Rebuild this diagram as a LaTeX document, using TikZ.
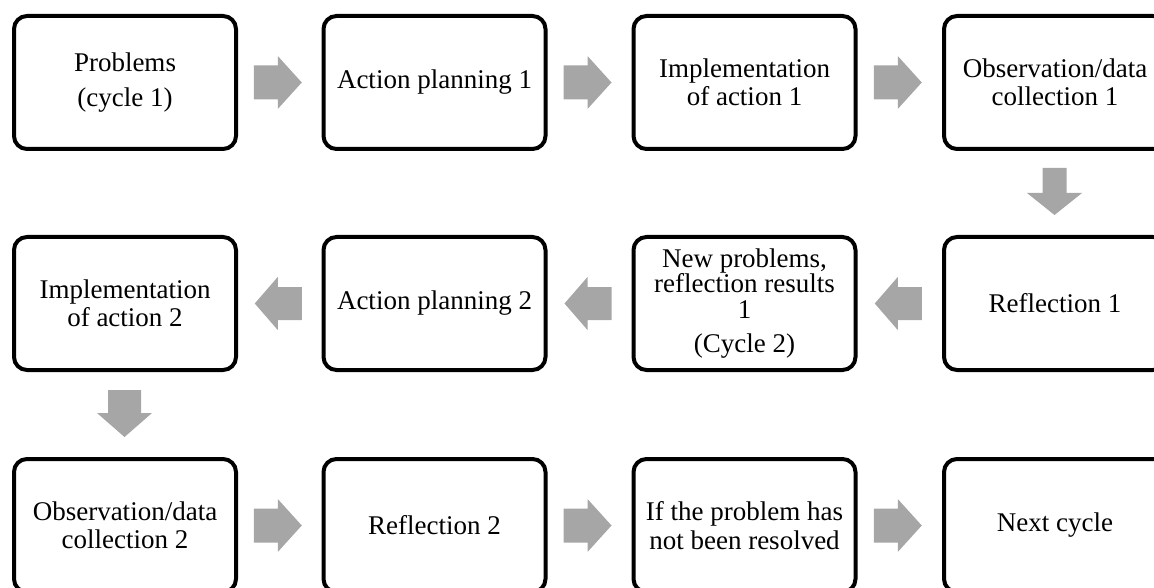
\documentclass[tikz,border=0pt]{standalone}
\usepackage{fontspec}
\setmainfont{Liberation Serif}
\usetikzlibrary{calc}
\definecolor{arrowgray}{RGB}{166,166,166}
\tikzset{
  stepbox/.style={draw=black, line width=4pt, rounded corners=13pt,
    minimum width=222pt, minimum height=133pt, inner sep=0pt,
    align=center, font=\fontsize{27}{28.5}\selectfont},
  rarrow/.pic={\fill[arrowgray] (-24,-17) -- (0,-17) -- (0,-26.5) -- (24,0)
      -- (0,26.5) -- (0,17) -- (-24,17) -- cycle;},
  larrow/.pic={\fill[arrowgray] (24,-16.5) -- (0,-16.5) -- (0,-26.5) -- (-23,0)
      -- (0,26.5) -- (0,16.5) -- (24,16.5) -- cycle;},
  darrowA/.pic={\fill[arrowgray] (-12,-25) -- (12,-25) -- (12,0) -- (27.5,0)
      -- (0,22) -- (-27.5,0) -- (-12,0) -- cycle;},
  darrowB/.pic={\fill[arrowgray] (-16.5,-23) -- (16.5,-23) -- (16.5,0) -- (27.5,0)
      -- (0,24) -- (-27.5,0) -- (-16.5,0) -- cycle;},
}
\begin{document}
\begin{tikzpicture}[x=1pt,y=-1pt]
\useasboundingbox (0,0) rectangle (1154,588);
\clip (0,0) rectangle (1154,588);
% row 1
\node[stepbox] (a1) at (125,82.5) {Problems\\[6pt](cycle 1)};
\node[stepbox] (a2) at (434.5,82.5) {Action planning 1};
\node[stepbox] (a3) at (744.5,82.5) {Implementation\\of action 1};
\node[stepbox] (a4) at (1055,82.5) {Observation/data\\collection 1};
% row 2
\node[stepbox] (b1) at (125,303.5) {Implementation\\of action 2};
\node[stepbox] (b2) at (434.5,303.5) {Action planning 2};
\node[stepbox, font=\fontsize{27}{25.5}\selectfont] (b3) at (744.5,303.5) {New problems,\\reflection results\\1\\[9pt](Cycle 2)};
\node[stepbox] (b4) at (1055,303.5) {Reflection 1};
% row 3
\node[stepbox] (c1) at (125,525.5) {Observation/data\\collection 2};
\node[stepbox] (c2) at (434.5,525.5) {Reflection 2};
\node[stepbox] (c3) at (744.5,525.5) {If the problem has\\not been resolved};
\node[stepbox] (c4) at (1055,525.5) {Next cycle};
% arrows
\pic at ($($(a1.east)!0.5!(a2.west)$)+(-2,0)$) {rarrow};
\pic at ($($(a2.east)!0.5!(a3.west)$)+(-2,0)$) {rarrow};
\pic at ($($(a3.east)!0.5!(a4.west)$)+(-2,0)$) {rarrow};
\pic at ($($(a4.south)!0.5!(b4.north)$)+(-0.5,0)$) {darrowA};
\pic at ($($(b4.west)!0.5!(b3.east)$)+(-2,0)$) {larrow};
\pic at ($($(b3.west)!0.5!(b2.east)$)+(-2,0)$) {larrow};
\pic at ($($(b2.west)!0.5!(b1.east)$)+(-2,0)$) {larrow};
\pic at ($($(b1.south)!0.5!(c1.north)$)+(-0.5,-1.5)$) {darrowB};
\pic at ($($(c1.east)!0.5!(c2.west)$)+(-2,0)$) {rarrow};
\pic at ($($(c2.east)!0.5!(c3.west)$)+(-2,0)$) {rarrow};
\pic at ($($(c3.east)!0.5!(c4.west)$)+(-2,0)$) {rarrow};
\end{tikzpicture}
\end{document}
